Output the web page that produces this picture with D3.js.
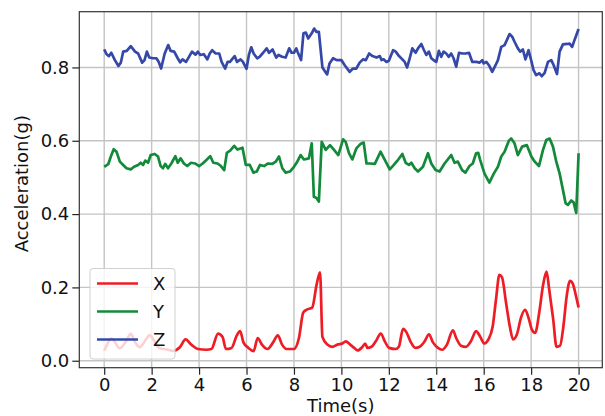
<!DOCTYPE html>
<html>
<head>
<meta charset="utf-8">
<script src="https://cdn.jsdelivr.net/npm/d3@7"></script>
<style>
    body { margin: 0; background: #fff; }
    text { font-family: "DejaVu Sans", sans-serif; fill: #111; }
</style>
</head>
<body>
<svg id="chart"></svg>
<script>
// time stamps (s) and acceleration (g)
let tX = [
    0, 0.09, 0.3, 0.44, 0.65, 0.94, 1.12, 1.29, 1.5, 1.74,
    1.92, 2.09, 2.34, 2.63, 2.9, 3.19, 3.43, 3.67, 3.95, 4.31,
    4.52, 4.8, 4.99, 5.13, 5.37, 5.59, 5.73, 5.87, 6.08, 6.3,
    6.47, 6.65, 6.89, 7.12, 7.32, 7.5, 7.69, 8.0, 8.21, 8.39,
    8.53, 8.77, 8.96, 9.1, 9.2, 9.41, 9.62, 9.83, 10.04, 10.18,
    10.37, 10.54, 10.68, 10.89, 11.0, 11.1, 11.27, 11.45, 11.66, 11.83,
    12.01, 12.29, 12.42, 12.6, 12.74, 12.91, 13.12, 13.3, 13.51, 13.69,
    13.86, 14.07, 14.25, 14.45, 14.7, 14.84, 15.04, 15.25, 15.46, 15.68,
    15.84, 16.03, 16.2, 16.38, 16.52, 16.66, 16.77, 16.94, 17.1, 17.24,
    17.42, 17.56, 17.75, 17.89, 18.03, 18.17, 18.34, 18.51, 18.65, 18.76,
    18.93, 19.07, 19.22, 19.36, 19.5, 19.64, 19.75, 19.89, 20.0
];
let accX = [
    0.027, 0.040, 0.061, 0.052, 0.034, 0.055, 0.073, 0.052, 0.037, 0.056,
    0.070, 0.056, 0.034, 0.031, 0.027, 0.037, 0.058, 0.044, 0.032, 0.030,
    0.032, 0.074, 0.065, 0.032, 0.035, 0.069, 0.081, 0.050, 0.035, 0.026,
    0.062, 0.044, 0.032, 0.050, 0.069, 0.044, 0.032, 0.032, 0.062, 0.131,
    0.139, 0.145, 0.209, 0.241, 0.065, 0.044, 0.038, 0.044, 0.047, 0.053,
    0.044, 0.035, 0.028, 0.038, 0.047, 0.035, 0.038, 0.053, 0.074, 0.053,
    0.035, 0.032, 0.038, 0.087, 0.078, 0.053, 0.035, 0.038, 0.053, 0.072,
    0.050, 0.035, 0.030, 0.044, 0.083, 0.062, 0.041, 0.038, 0.053, 0.081,
    0.067, 0.047, 0.058, 0.094, 0.168, 0.234, 0.228, 0.159, 0.094, 0.058,
    0.076, 0.115, 0.139, 0.117, 0.085, 0.076, 0.131, 0.209, 0.243, 0.195,
    0.113, 0.038, 0.041, 0.094, 0.177, 0.218, 0.211, 0.177, 0.145
];

let tY = [
    0, 0.17, 0.28, 0.4, 0.52, 0.66, 0.8, 0.94, 1.12, 1.26,
    1.43, 1.54, 1.64, 1.73, 1.85, 1.96, 2.13, 2.27, 2.38, 2.48,
    2.57, 2.69, 2.83, 3.0, 3.1, 3.22, 3.36, 3.5, 3.66, 3.83,
    4.0, 4.15, 4.33, 4.47, 4.6, 4.78, 4.92, 5.06, 5.17, 5.31,
    5.48, 5.62, 5.83, 5.97, 6.14, 6.29, 6.43, 6.57, 6.74, 6.91,
    7.09, 7.23, 7.37, 7.51, 7.65, 7.83, 8.0, 8.14, 8.28, 8.42,
    8.63, 8.75, 8.84, 8.95, 9.05, 9.17, 9.34, 9.52, 9.69, 9.87,
    10.07, 10.18, 10.32, 10.46, 10.63, 10.8, 10.94, 11.06, 11.2, 11.41,
    11.65, 11.83, 12.04, 12.21, 12.39, 12.57, 12.71, 12.85, 12.95, 13.09,
    13.23, 13.44, 13.65, 13.79, 13.97, 14.14, 14.35, 14.63, 14.77, 14.91,
    15.09, 15.23, 15.4, 15.54, 15.68, 15.77, 15.85, 16.03, 16.24, 16.43,
    16.6, 16.74, 16.88, 17.06, 17.16, 17.3, 17.44, 17.62, 17.82, 18.01,
    18.15, 18.33, 18.5, 18.64, 18.78, 18.92, 19.06, 19.2, 19.34, 19.45,
    19.55, 19.69, 19.79, 19.9, 20.0
];
let accY = [
    0.529, 0.536, 0.557, 0.577, 0.570, 0.543, 0.534, 0.525, 0.522, 0.529,
    0.534, 0.540, 0.534, 0.546, 0.540, 0.561, 0.564, 0.557, 0.531, 0.525,
    0.537, 0.525, 0.538, 0.558, 0.540, 0.552, 0.538, 0.531, 0.540, 0.538,
    0.531, 0.538, 0.549, 0.558, 0.540, 0.538, 0.531, 0.520, 0.567, 0.573,
    0.586, 0.576, 0.581, 0.534, 0.534, 0.513, 0.516, 0.534, 0.531, 0.538,
    0.537, 0.543, 0.557, 0.525, 0.513, 0.516, 0.529, 0.543, 0.561, 0.549,
    0.552, 0.593, 0.447, 0.444, 0.434, 0.597, 0.575, 0.588, 0.575, 0.561,
    0.604, 0.597, 0.566, 0.549, 0.579, 0.591, 0.595, 0.538, 0.538, 0.537,
    0.570, 0.548, 0.522, 0.534, 0.548, 0.564, 0.540, 0.534, 0.540, 0.525,
    0.516, 0.529, 0.566, 0.538, 0.520, 0.516, 0.538, 0.561, 0.540, 0.543,
    0.520, 0.513, 0.531, 0.538, 0.566, 0.567, 0.548, 0.511, 0.486, 0.511,
    0.529, 0.557, 0.570, 0.600, 0.606, 0.593, 0.561, 0.584, 0.588, 0.557,
    0.543, 0.531, 0.575, 0.602, 0.606, 0.584, 0.543, 0.511, 0.466, 0.430,
    0.425, 0.437, 0.432, 0.403, 0.566
];

let tZ = [
    0, 0.1, 0.2, 0.3, 0.45, 0.6, 0.7, 0.8, 0.95, 1.12,
    1.3, 1.43, 1.6, 1.7, 1.8, 1.9, 2.05, 2.2, 2.3, 2.4,
    2.55, 2.7, 2.8, 2.95, 3.1, 3.2, 3.3, 3.45, 3.55, 3.7,
    3.85, 3.95, 4.05, 4.2, 4.35, 4.45, 4.55, 4.7, 4.85, 4.95,
    5.1, 5.2, 5.3, 5.5, 5.6, 5.75, 5.85, 6.0, 6.1, 6.2,
    6.3, 6.45, 6.55, 6.7, 6.85, 6.95, 7.1, 7.25, 7.35, 7.5,
    7.65, 7.8, 7.9, 8.0, 8.1, 8.15, 8.3, 8.4, 8.5, 8.6,
    8.75, 8.85, 8.95, 9.05, 9.2, 9.3, 9.4, 9.5, 9.65, 9.8,
    10.0, 10.14, 10.35, 10.49, 10.63, 10.77, 10.91, 11.03, 11.17, 11.31,
    11.48, 11.62, 11.69, 11.78, 11.9, 12.0, 12.18, 12.29, 12.43, 12.57,
    12.67, 12.77, 12.88, 12.99, 13.13, 13.23, 13.37, 13.47, 13.58, 13.69,
    13.79, 13.93, 14.0, 14.11, 14.21, 14.31, 14.42, 14.53, 14.63, 14.73,
    14.84, 14.96, 15.1, 15.24, 15.38, 15.52, 15.69, 15.83, 15.94, 16.0,
    16.11, 16.22, 16.36, 16.5, 16.6, 16.74, 16.88, 16.98, 17.09, 17.2,
    17.3, 17.44, 17.54, 17.65, 17.76, 17.89, 18.0, 18.1, 18.21, 18.35,
    18.45, 18.57, 18.71, 18.85, 18.95, 19.09, 19.2, 19.34, 19.51, 19.62,
    19.73, 19.83, 20.0
];
let accZ = [
    0.849, 0.836, 0.831, 0.840, 0.820, 0.804, 0.813, 0.843, 0.845, 0.858,
    0.843, 0.838, 0.813, 0.820, 0.843, 0.827, 0.825, 0.825, 0.815, 0.797,
    0.838, 0.861, 0.845, 0.843, 0.825, 0.814, 0.822, 0.815, 0.826, 0.843,
    0.835, 0.843, 0.834, 0.836, 0.822, 0.838, 0.847, 0.838, 0.838, 0.815,
    0.797, 0.815, 0.815, 0.831, 0.815, 0.822, 0.815, 0.796, 0.834, 0.855,
    0.838, 0.825, 0.829, 0.840, 0.852, 0.840, 0.849, 0.827, 0.834, 0.829,
    0.827, 0.852, 0.840, 0.840, 0.852, 0.843, 0.820, 0.893, 0.895, 0.879,
    0.893, 0.906, 0.897, 0.897, 0.800, 0.790, 0.781, 0.811, 0.825, 0.820,
    0.820, 0.806, 0.788, 0.797, 0.797, 0.813, 0.822, 0.820, 0.838, 0.831,
    0.827, 0.831, 0.820, 0.822, 0.815, 0.818, 0.847, 0.843, 0.831, 0.822,
    0.815, 0.800, 0.825, 0.852, 0.840, 0.852, 0.864, 0.849, 0.834, 0.843,
    0.825, 0.818, 0.815, 0.845, 0.829, 0.843, 0.838, 0.829, 0.838, 0.825,
    0.802, 0.840, 0.838, 0.838, 0.840, 0.815, 0.815, 0.813, 0.820, 0.811,
    0.815, 0.806, 0.788, 0.806, 0.820, 0.856, 0.861, 0.875, 0.891, 0.884,
    0.870, 0.852, 0.843, 0.849, 0.822, 0.847, 0.820, 0.793, 0.779, 0.784,
    0.776, 0.785, 0.815, 0.820, 0.806, 0.782, 0.843, 0.863, 0.864, 0.865,
    0.856, 0.875, 0.905
];

let seriesNames = ["X", "Y", "Z"];
let xTicks = [0, 2, 4, 6, 8, 10, 12, 14, 16, 18, 20];
let yTicks = [0.0, 0.2, 0.4, 0.6, 0.8];

function drawChart() {
    let W = 605, H = 416;
    let left = 79.3, right = 602.3, top = 11.7, bottom = 367.7;
    let colors = ["#ee1d25", "#138a3a", "#3548a8"];
    let fs = 18;

    let series = [
        { name: seriesNames[0], pts: d3.zip(tX, accX), curve: d3.curveMonotoneX },
        { name: seriesNames[1], pts: d3.zip(tY, accY), curve: d3.curveLinear },
        { name: seriesNames[2], pts: d3.zip(tZ, accZ), curve: d3.curveLinear },
    ];

    let scX = d3.scaleLinear().domain([-1.05, 21]).range([left, right]);
    let scY = d3.scaleLinear().domain([-0.019, 0.952]).range([bottom, top]);

    let svg = d3.select('#chart')
        .attr('width', W).attr('height', H);

    // grid
    let grid = svg.append('g');
    grid.selectAll('line.gx')
        .data(xTicks).enter().append('line')
        .attr('x1', d => scX(d)).attr('x2', d => scX(d))
        .attr('y1', top).attr('y2', bottom)
        .attr('stroke', '#c4c4c4').attr('stroke-width', 1.4);
    grid.selectAll('line.gy')
        .data(yTicks).enter().append('line')
        .attr('x1', left).attr('x2', right)
        .attr('y1', d => scY(d)).attr('y2', d => scY(d))
        .attr('stroke', '#c4c4c4').attr('stroke-width', 1.4);

    // lines
    series.forEach((s, i) => {
        let line = d3.line()
            .x(d => scX(d[0])).y(d => scY(d[1]))
            .curve(s.curve);
        svg.append('path')
            .datum(s.pts)
            .attr('d', line)
            .attr('fill', 'none')
            .attr('stroke', colors[i])
            .attr('stroke-width', 2.7)
            .attr('stroke-linejoin', 'round');
    });

    // axes
    let ax = svg.append('g')
        .attr('transform', `translate(0,${bottom})`)
        .call(d3.axisBottom(scX).tickValues(xTicks).tickFormat(d3.format('d'))
            .tickSize(7).tickPadding(4).tickSizeOuter(0));
    let ay = svg.append('g')
        .attr('transform', `translate(${left},0)`)
        .call(d3.axisLeft(scY).tickValues(yTicks).tickFormat(d3.format('.1f'))
            .tickSize(7).tickPadding(3).tickSizeOuter(0));
    [ax, ay].forEach(a => {
        a.select('.domain').remove();
        a.selectAll('line').attr('stroke', '#222').attr('stroke-width', 1.2);
        a.selectAll('text').attr('font-size', fs).attr('fill', '#111')
            .attr('font-family', '"DejaVu Sans", sans-serif');
    });

    // frame
    svg.append('rect')
        .attr('x', left).attr('y', top)
        .attr('width', right - left).attr('height', bottom - top)
        .attr('fill', 'none').attr('stroke', '#333').attr('stroke-width', 1.2);

    // axis labels
    svg.append('text')
        .attr('x', (left + right) / 2).attr('y', 412)
        .attr('text-anchor', 'middle').attr('font-size', fs)
        .text('Time(s)');
    svg.append('text')
        .attr('transform', `translate(28,${(top + bottom) / 2 - 6}) rotate(-90)`)
        .attr('text-anchor', 'middle').attr('font-size', fs)
        .text('Acceleration(g)');

    // legend
    let lg = svg.append('g');
    lg.append('rect')
        .attr('x', 90).attr('y', 268.5).attr('width', 85).attr('height', 90.5)
        .attr('rx', 3)
        .attr('fill', '#fff').attr('fill-opacity', 0.8)
        .attr('stroke', '#d0d0d0').attr('stroke-width', 1);
    let rows = lg.selectAll('g.row')
        .data(seriesNames).enter().append('g')
        .attr('transform', (d, i) => `translate(0,${283.5 + i * 28})`);
    rows.append('line')
        .attr('x1', 97).attr('x2', 138).attr('y1', 0).attr('y2', 0)
        .attr('stroke', (d, i) => colors[i]).attr('stroke-width', 2.7);
    rows.append('text')
        .attr('x', 153).attr('y', 0).attr('dy', '0.36em')
        .attr('font-size', fs)
        .text(d => d);
}

drawChart();
</script>
</body>
</html>
